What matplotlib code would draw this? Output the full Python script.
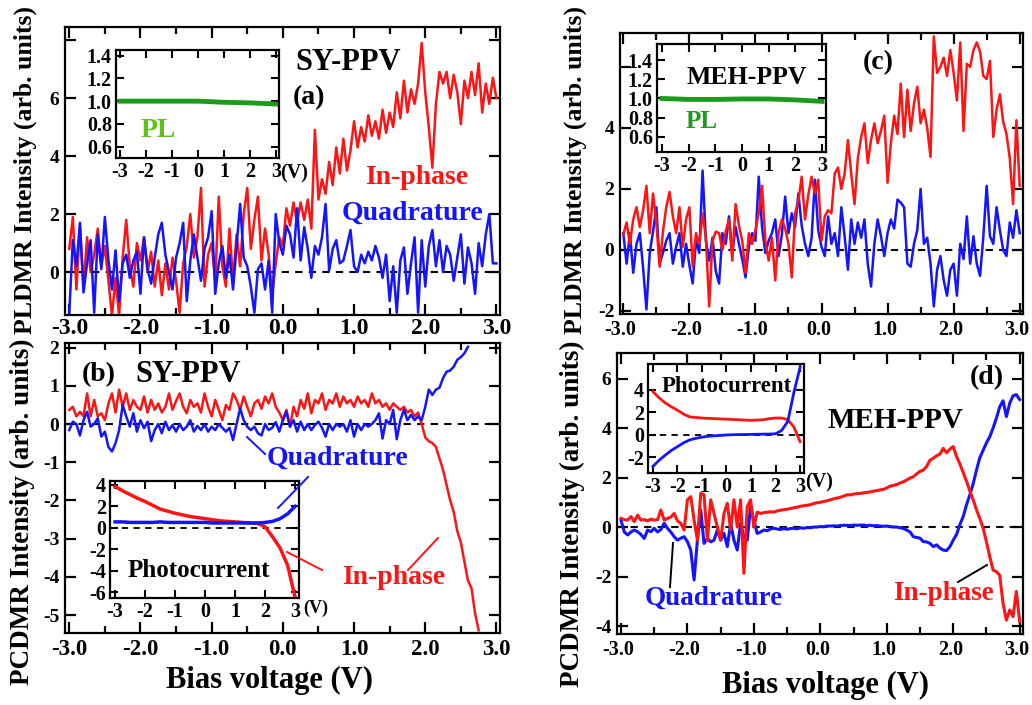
import numpy as np
import matplotlib
matplotlib.use('Agg')
import matplotlib.pyplot as plt
import matplotlib.transforms as mtransforms
from matplotlib.lines import Line2D

plt.rcParams['font.family'] = ['Liberation Serif', 'DejaVu Serif']
plt.rcParams['font.weight'] = 'bold'
plt.rcParams['axes.linewidth'] = 1.6
plt.rcParams['axes.unicode_minus'] = False

RED = '#ff1414'
BLUE = '#1414ff'
GREEN = '#1c9a1c'

# bias sweep, 0.05 V steps
bias = np.round(np.arange(-3.0, 3.001, 0.05), 2)

# (a) SY-PPV PLDMR
sy_pl_inphase = [
    0.8, 1.9, -0.6, 1.6, -0.5, 1.2, 0.0, 0.6, 1.5, 0.2,
    0.9, -0.3, -1.5, -0.2, -1.5, 0.5, 1.8, 0.2, -0.5, 1.0,
    0.4, 1.2, 0.0, 0.7, -0.5, 0.4, -0.8, 0.3, -0.6, 0.5,
    -0.3, -1.4, 0.3, 0.9, 2.0, 0.5, 1.2, 2.9, -0.5, 0.6,
    1.0, -0.3, 2.6, 0.2, -0.5, 1.5, -0.3, 1.3, 0.2, 2.0,
    2.9, 0.8, 1.8, 2.6, 0.4, 1.5, 0.6, -0.8, 0.3, 1.2,
    0.9, 2.2, 1.6, 2.4, 1.7, 2.4, 1.8, 2.5, 1.5, 4.9,
    2.5, 3.2, 2.7, 3.8, 3.0, 4.3, 3.4, 4.6, 3.5, 4.2,
    5.2, 4.3, 5.0, 4.5, 5.4, 4.7, 5.2, 4.6, 5.6, 4.8,
    5.5, 5.0, 6.2, 5.3, 6.6, 5.5, 6.3, 5.8, 6.5, 7.9,
    6.2, 5.0, 3.6, 5.8, 6.9, 6.5, 6.9, 6.0, 6.8, 6.2,
    5.1, 6.6, 6.0, 6.9, 6.1, 7.2, 5.5, 6.5, 5.8, 6.7,
    6.0]
sy_pl_quad = [
    -1.4, 1.1, 0.2, 1.7, -0.7, 0.3, 1.1, -1.4, 1.3, 0.1,
    1.9, 0.4, -0.6, 0.75, -1.0, 0.3, 0.6, -0.2, 0.4, 0.7,
    -0.75, 1.2, 0.1, -0.4, 0.5, 1.3, 1.7, 0.6, 0.0, -0.6,
    0.5, 1.0, 1.7, -1.0, 0.4, 1.3, 0.5, -0.3, 0.8, 1.2,
    2.1, -0.75, 0.3, 0.9, -0.2, 0.6, -0.6, 0.9, 2.35, 0.5,
    0.2, -0.5, -1.4, 0.1, 0.3, -0.6, 0.4, -1.4, 2.0, 1.0,
    0.6, 1.6, 1.3, 0.5, 2.2, 0.4, 1.55, 0.8, -0.2, 0.9,
    0.6, 1.2, 2.35, 0.05, 0.8, 1.1, 0.3, 0.4, 0.9, 1.45,
    0.2, 0.0, 0.6, 0.3, 0.7, 0.4, 0.9, 0.5, -0.2, 0.6,
    -1.0, 0.2, -1.4, 0.4, 0.85, -0.75, 0.3, 1.2, -1.4, 1.1,
    -0.5, 0.9, 1.45, 0.2, 1.1, 0.0, 0.9, 0.6, -0.3, 0.5,
    1.3, -0.4, 0.85, 0.3, -0.75, 1.0, 0.2, 1.3, 2.0, 0.3,
    0.3]

# (c) MEH-PPV PLDMR
meh_pl_inphase = [
    0.5, 0.9, 0.2, 1.0, 1.4, 0.75, 1.3, 2.1, 0.55, 1.85,
    0.9, -0.55, 0.6, 1.4, 1.9, 1.1, 0.55, 1.4, 0.1, 1.0,
    1.4, -0.55, 0.55, 0.2, 1.2, 0.4, -1.85, 0.3, 0.6, 0.55,
    0.0, 0.6, 1.0, -0.35, 1.5, 0.8, 0.3, -0.75, 0.55, 0.2,
    0.65, 1.2, 2.1, 0.3, -0.35, 0.4, -1.0, 0.55, 1.0, 0.7,
    0.2, -0.9, 1.2, 1.6, 2.4, 1.0, 1.8, 2.4, 1.85, 2.3,
    0.3, 1.1, 1.3, 1.2, 2.5, 2.7, 2.0, 2.5, 3.6, 2.5,
    1.5, 3.0, 3.7, 4.15, 2.85, 3.6, 4.15, 3.5, 3.9, 4.4,
    2.2, 3.5, 4.4, 3.8, 5.45, 3.7, 5.25, 3.9, 4.8, 5.35,
    4.15, 4.6, 4.0, 3.05, 7.0, 5.8, 6.0, 6.3, 5.7, 6.55,
    5.8, 4.9, 6.8, 3.9, 6.1, 6.0, 6.55, 6.8, 6.5, 5.7,
    5.6, 6.2, 3.7, 4.6, 5.1, 4.2, 3.8, 3.0, 1.5, 4.25,
    2.1]
meh_pl_quad = [
    0.55, -0.45, 0.55, -0.75, 0.2, 0.55, -0.6, -1.95, -0.1, 0.6,
    1.4, -0.45, -0.1, 0.3, 0.55, -0.45, 0.1, 0.55, -0.55, 0.2,
    -0.5, -1.1, 0.3, -0.1, 2.6, 0.3, -0.35, 0.4, -0.7, -1.1,
    0.55, 0.2, 1.1, -0.1, 0.75, 0.2, -0.3, -0.9, 0.1, 0.55,
    0.3, 2.4, 0.75, -0.1, 0.3, 0.55, 1.0, -0.2, 0.5, 1.75,
    0.55, 1.2, 0.75, 1.85, 0.8, 0.2, -0.2, 0.4, 2.3, 0.65,
    0.1, -0.2, 1.1, 0.2, 0.55, -0.2, 1.4, 0.45, -0.65, 1.0,
    0.2, 0.9, 0.4, 1.0, -0.45, -1.2, 0.2, 1.0, 0.45, -0.2,
    0.55, 1.0, 0.7, 1.65, 1.55, 1.4, -0.45, -0.55, 0.2, 0.65,
    2.0, 0.2, 0.4, -0.45, -1.85, -0.65, -0.2, -1.0, -1.5, -0.65,
    -0.45, -1.5, 0.2, -0.3, 1.1, -0.45, 0.45, -0.45, -0.85, 0.45,
    2.1, 0.45, 0.2, 1.4, 0.65, 0.0, -0.2, 0.9, 0.4, 1.3,
    0.55]

# (b) SY-PPV PCDMR
sy_pc_inphase = [
    0.37, 0.45, 0.2, 0.32, 0.2, 0.8, 0.2, 0.63, 0.2, 0.28,
    0.1, 0.54, 0.8, 0.3, 0.9, 0.45, 0.8, 0.37, 0.63, 0.45,
    0.37, 0.72, 0.3, 0.63, 0.37, 0.54, 0.3, 0.45, 0.8, 0.37,
    0.6, 0.8, 0.45, 0.28, 0.63, 0.45, 0.54, 0.3, 0.8, 0.45,
    0.2, 0.63, 0.37, 0.1, 0.5, 0.37, 0.8, 0.63, 0.37, 0.72,
    0.45, 0.2, 0.54, 0.63, 0.4, 0.72, 0.54, 0.8, 0.45, 0.3,
    0.1, 0.37, -0.07, 0.45, 0.2, 0.63, 0.4, 0.8, 0.28, 0.63,
    0.54, 0.8, 0.37, 0.63, 0.54, 0.8, 0.45, 0.72, 0.54, 0.63,
    0.45, 0.72, 0.54, 0.63, 0.45, 0.8, 0.54, 0.63, 0.45, 0.54,
    0.37, 0.54, 0.45, 0.37, 0.45, 0.3, 0.37, 0.2, 0.3, 0.0,
    -0.35, -0.45, -0.5, -0.6, -0.9, -1.2, -1.6, -2.0, -2.3, -2.8,
    -3.1, -3.6, -4.1, -4.3, -4.96, -5.4]
sy_pc_quad = [
    -0.16, 0.06, 0.0, -0.3, 0.1, 0.32, -0.07, 0.0, 0.15, -0.33,
    -0.2, -0.6, -0.72, -0.5, -0.16, 0.5, 0.2, -0.07, 0.28, -0.2,
    0.1, -0.11, 0.06, -0.45, -0.16, 0.0, -0.24, 0.06, -0.16, -0.03,
    -0.2, 0.0, -0.16, -0.07, 0.1, -0.2, -0.05, -0.16, 0.0, -0.2,
    -0.07, -0.16, 0.0, -0.1, -0.2, -0.1, -0.42, 0.0, 0.41, 0.1,
    -0.07, -0.16, -0.07, -0.24, -0.3, 0.0, -0.16, -0.1, 0.05, -0.2,
    0.1, 0.32, -0.07, 0.1, -0.2, 0.06, -0.16, 0.0, -0.16, -0.03,
    0.06, -0.1, -0.33, 0.0, -0.16, 0.0, -0.07, 0.0, -0.2, 0.1,
    -0.33, 0.0, -0.16, 0.0, -0.07, 0.0, 0.1, 0.28, -0.38, 0.1,
    0.0, 0.37, -0.4, 0.1, 0.37, 0.1, 0.24, 0.1, 0.2, 0.1,
    0.45, 0.9, 0.76, 0.9, 0.95, 1.2, 1.37, 1.4, 1.5, 1.68,
    1.75, 1.85, 2.02]

# (d) MEH-PPV PCDMR
meh_pc_inphase = [
    0.35, 0.3, 0.28, 0.42, 0.22, 0.48, 0.28, 0.3, 0.25, 0.32,
    0.28, 0.3, 0.69, 0.28, 0.35, 0.4, 0.55, 0.25, 0.15, -0.12,
    1.1, 1.23, 0.28, -0.53, 1.36, 1.3, -0.53, 1.1, 0.55, 0.0,
    -0.53, 0.55, 0.96, -0.12, 1.1, 0.0, 1.1, -1.87, 0.82, 1.1,
    0.0, 0.6, 0.55, 0.58, 0.6, 0.62, 0.6, 0.65, 0.68, 0.7,
    0.72, 0.75, 0.78, 0.8, 0.84, 0.86, 0.88, 0.9, 0.95, 0.98,
    1.0, 1.03, 1.06, 1.1, 1.14, 1.17, 1.2, 1.25, 1.3, 1.3,
    1.33, 1.35, 1.36, 1.38, 1.4, 1.42, 1.45, 1.47, 1.5, 1.52,
    1.58, 1.65, 1.68, 1.72, 1.78, 1.83, 1.9, 1.98, 2.03, 2.15,
    2.25, 2.3, 2.45, 2.7, 2.78, 2.88, 2.95, 3.18, 3.0, 3.15,
    3.25, 2.85, 2.55, 2.2, 1.85, 1.45, 1.1, 0.7, 0.35, -0.05,
    -0.6, -1.2, -1.74, -1.8, -1.95, -3.08, -3.76, -3.35, -3.62, -2.6,
    -3.82]
meh_pc_quad = [
    0.28, -0.2, -0.32, -0.2, -0.12, -0.19, -0.3, -0.46, -0.12, -0.19,
    -0.05, -0.2, -0.1, 0.15, -0.05, -0.2, -0.39, -0.53, -0.45, -0.39,
    -0.59, -0.93, -2.14, -0.53, 0.69, -0.66, -0.46, -0.6, -0.53, -0.12,
    -0.53, -0.26, -0.79, 0.15, -0.53, -0.93, 0.15, -0.4, -0.53, 0.82,
    0.28, -0.26, -0.2, -0.12, -0.15, -0.08, -0.05, -0.08, -0.1, -0.06,
    -0.09, -0.06, -0.05, -0.07, -0.03, -0.05, -0.02, -0.03, 0.0, 0.0,
    0.02, 0.01, 0.04, 0.04, 0.05, 0.04, 0.06, 0.07, 0.07, 0.06,
    0.08, 0.07, 0.08, 0.08, 0.06, 0.07, 0.05, 0.06, 0.04, 0.03,
    0.04, 0.02, 0.0, 0.0, -0.03, -0.06, -0.12, -0.2, -0.39, -0.42,
    -0.45, -0.59, -0.6, -0.66, -0.79, -0.72, -0.85, -0.93, -0.95, -0.79,
    -0.53, -0.3, 0.1, 0.42, 0.9, 1.3, 1.75, 2.3, 2.8, 3.1,
    3.4, 3.65, 4.0, 4.4, 4.86, 5.1, 4.46, 5.0, 5.3, 5.35,
    5.15]

# insets: PL and photocurrent vs bias
pl_bias = [-3, -2, -1, 0, 1, 2, 3]
sy_pl = [1.0, 1.0, 1.0, 1.0, 0.99, 0.985, 0.975]
meh_pl = [1.0, 0.99, 0.99, 0.995, 0.995, 0.985, 0.97]

pc_bias = np.round(np.arange(-3.0, 3.001, 0.25), 2)
sy_photo_inphase = [3.85, 3.45, 3.1, 2.75, 2.45, 2.1, 1.75, 1.55, 1.35, 1.2,
                    1.05, 0.95, 0.85, 0.75, 0.65, 0.6, 0.55, 0.5, 0.45, 0.4,
                    0.1, -0.85, -1.9, -3.5, -6.5]
sy_photo_quad = [0.55, 0.55, 0.5, 0.5, 0.5, 0.5, 0.55, 0.5, 0.5, 0.5,
                 0.5, 0.5, 0.5, 0.45, 0.45, 0.45, 0.45, 0.45, 0.45, 0.45,
                 0.5, 0.6, 0.85, 1.3, 2.0]
meh_photo_inphase = [3.85, 3.3, 2.85, 2.5, 2.2, 1.85, 1.6, 1.55, 1.5, 1.47,
                     1.45, 1.42, 1.4, 1.37, 1.35, 1.32, 1.3, 1.32, 1.35, 1.45,
                     1.5, 1.5, 1.35, 0.7, -0.6]
meh_photo_quad = [-2.8, -2.25, -1.8, -1.38, -1.04, -0.7, -0.44, -0.3, -0.2, -0.12,
                  -0.08, -0.04, 0.0, 0.02, 0.03, 0.04, 0.05, 0.06, 0.07, 0.08,
                  0.1, 0.4, 1.2, 3.8, 6.0]

W, H = 1032, 705
fig = plt.figure(figsize=(W / 100, H / 100), dpi=100)


def box(left, top, right, bottom):
    # pixel box -> figure fraction rect
    return [left / W, 1 - bottom / H, (right - left) / W, (bottom - top) / H]


def label(x, y, s, **kw):
    # text placed by pixel position from the top-left corner
    kw.setdefault('va', 'center')
    return fig.text(x / W, 1 - y / H, s, **kw)


def dashed_zero(ax, lw=1.5):
    ax.axhline(0, color='k', lw=lw, ls=(0, (3.5, 3)), zorder=1)


def main_axes(rect, ylim, yticks, ylabels, xsize, xpad=4, xshift=0.0):
    ax = fig.add_axes(rect)
    ax.set_xlim(-3.06, 3.05)
    ax.set_ylim(*ylim)
    ax.set_xticks(np.arange(-3, 3.1, 1))
    ax.set_xticklabels(['%.1f' % v for v in np.arange(-3, 3.1, 1)])
    ax.set_xticks(np.arange(-2.5, 3.0, 1), minor=True)
    ax.set_yticks(yticks)
    ax.set_yticklabels(ylabels)
    ax.tick_params(which='both', direction='in', top=True, right=True, width=1.6)
    ax.tick_params(which='major', length=8)
    ax.tick_params(which='minor', length=5)
    ax.tick_params(axis='x', labelsize=xsize, pad=xpad)
    ax.tick_params(axis='y', labelsize=14, pad=4)
    if xshift:
        off = mtransforms.ScaledTranslation(xshift / 100, 0, fig.dpi_scale_trans)
        for t in ax.get_xticklabels():
            t.set_transform(t.get_transform() + off)
    dashed_zero(ax)
    return ax


def inset_axes(rect, xlim, ylim, yticks, ylabels):
    ax = fig.add_axes(rect)
    ax.set_xlim(*xlim)
    ax.set_ylim(*ylim)
    ax.set_xticks(range(-3, 4))
    ax.set_xticklabels([str(v) for v in range(-3, 4)])
    ax.set_yticks(yticks)
    ax.set_yticklabels(ylabels)
    ax.tick_params(direction='in', top=True, right=True, width=1.5, length=6,
                   labelsize=14.5, pad=3)
    return ax


# ---- (a) SY-PPV PLDMR ----
ax_a = main_axes(box(65, 27, 500, 315), (-1.48, 8.45), [0, 2, 4, 6, 8],
                 ['0', '2', '4', '6', ''], xsize=17, xpad=2)
ax_a.plot(bias, sy_pl_inphase, color=RED, lw=1.8)
ax_a.plot(bias, sy_pl_quad, color=BLUE, lw=1.8)
label(295, 62, 'SY-PPV', fontsize=22)
label(293, 98, '(a)', fontsize=20)
label(365, 178, 'In-phase', fontsize=20, color=RED)
label(342, 213, 'Quadrature', fontsize=20, color=BLUE)

ins_a = inset_axes(box(116, 50, 279, 158), (-3.15, 3.12), (0.5, 1.45),
                   [0.6, 0.8, 1.0, 1.2, 1.4], ['0.6', '0.8', '1.0', '1.2', '1.4'])
ins_a.plot(pl_bias, sy_pl, color=GREEN, lw=3.5)
ins_a.text(-2.2, 0.74, 'PL', fontsize=20, color='#5cc21a', va='center')
label(280, 173, '(V)', fontsize=14.5)

# ---- (b) SY-PPV PCDMR ----
ax_b = main_axes(box(65, 343, 500, 633), (-5.47, 2.12), range(-5, 3),
                 [str(v) for v in range(-5, 3)], xsize=16.5)
ax_b.plot(bias[:len(sy_pc_inphase)], sy_pc_inphase, color=RED, lw=1.8)
ax_b.plot(bias[:len(sy_pc_quad)], sy_pc_quad, color=BLUE, lw=1.8)
label(82, 375, '(b)', fontsize=20)
label(135, 375, 'SY-PPV', fontsize=22)
label(267, 458, 'Quadrature', fontsize=20, color=BLUE)
label(342, 578, 'In-phase', fontsize=20, color=RED)

ins_b = inset_axes(box(110, 481, 299, 598), (-3.17, 3.13), (-6.56, 4.37),
                   [-6, -4, -2, 0, 2, 4], ['-6', '-4', '-2', '0', '2', '4'])
dashed_zero(ins_b, 1.3)
ins_b.plot(pc_bias, sy_photo_inphase, color=RED, lw=2.5)
ins_b.plot(pc_bias, sy_photo_quad, color=BLUE, lw=2.5)
ins_b.text(-2.6, -4.0, 'Photocurrent', fontsize=18, va='center')
label(303, 608, '(V)', fontsize=13)

# ---- (c) MEH-PPV PLDMR ----
ax_c = main_axes(box(620, 33, 1023, 314), (-2.1, 7.11), [-2, 0, 2, 4, 6],
                 ['-2', '0', '2', '4', ''], xsize=14.5, xshift=-3)
ax_c.set_xlim(-3.05, 3.05)
ax_c.plot(bias, meh_pl_quad, color=BLUE, lw=1.8)
ax_c.plot(bias, meh_pl_inphase, color=RED, lw=1.8)
label(863, 63, '(c)', fontsize=20)

ins_c = inset_axes(box(657, 44, 826, 152), (-3.19, 3.15), (0.44, 1.57),
                   [0.6, 0.8, 1.0, 1.2, 1.4], ['0.6', '0.8', '1.0', '1.2', '1.4'])
ins_c.plot(pl_bias, meh_pl, color=GREEN, lw=3.5)
ins_c.text(-2.1, 1.22, 'MEH-PPV', fontsize=18.5, va='center')
ins_c.text(-2.1, 0.76, 'PL', fontsize=18, color='#1f991f', va='center')

# ---- (d) MEH-PPV PCDMR ----
ax_d = main_axes(box(617, 353, 1023, 634), (-4.32, 7.03), [-4, -2, 0, 2, 4, 6],
                 ['-4', '-2', '0', '2', '4', '6'], xsize=14.5, xshift=-3)
ax_d.plot(bias, meh_pc_quad, color=BLUE, lw=2.2)
ax_d.plot(bias, meh_pc_inphase, color=RED, lw=2.2)
label(970, 378, '(d)', fontsize=20)
label(828, 420, 'MEH-PPV', fontsize=21)
label(645, 598, 'Quadrature', fontsize=19.5, color=BLUE)
label(893, 593, 'In-phase', fontsize=19.5, color=RED)

ins_d = inset_axes(box(648, 364, 804, 473), (-3.2, 3.16), (-3.38, 6.3),
                   [-2, 0, 2, 4], ['-2', '0', '2', '4'])
dashed_zero(ins_d, 1.3)
ins_d.plot(pc_bias, meh_photo_inphase, color=RED, lw=2.0)
ins_d.plot(pc_bias, meh_photo_quad, color=BLUE, lw=2.0)
label(662, 386, 'Photocurrent', fontsize=16.5)
label(805, 482, '(V)', fontsize=14.5)

# leader lines from labels to traces (pixel endpoints)
leaders = [
    ((247, 437), (265, 454), BLUE),
    ((278, 508), (308, 477), BLUE),
    ((287, 552), (322, 570), RED),
    ((408, 570), (438, 538), RED),
    ((670, 587), (673, 543), 'k'),
    ((958, 582), (987, 565), 'k'),
]
for (x0, y0), (x1, y1), c in leaders:
    fig.add_artist(Line2D([x0 / W, x1 / W], [1 - y0 / H, 1 - y1 / H],
                          color=c, lw=1.4, transform=fig.transFigure))

# axis titles
label(25, 170, 'PLDMR Intensity (arb. units)', fontsize=18.5,
      rotation=90, ha='center')
label(22, 512, 'PCDMR Intensity (arb. units)', fontsize=19.5,
      rotation=90, ha='center')
label(575, 170, 'PLDMR Intensity (arb. units)', fontsize=18.5,
      rotation=90, ha='center')
label(572, 514, 'PCDMR Intensity (arb. units)', fontsize=19.5,
      rotation=90, ha='center')
label(270, 680, 'Bias voltage (V)', fontsize=22, ha='center')
label(826, 685, 'Bias voltage (V)', fontsize=22, ha='center')

fig.savefig('out.png', dpi=100)
